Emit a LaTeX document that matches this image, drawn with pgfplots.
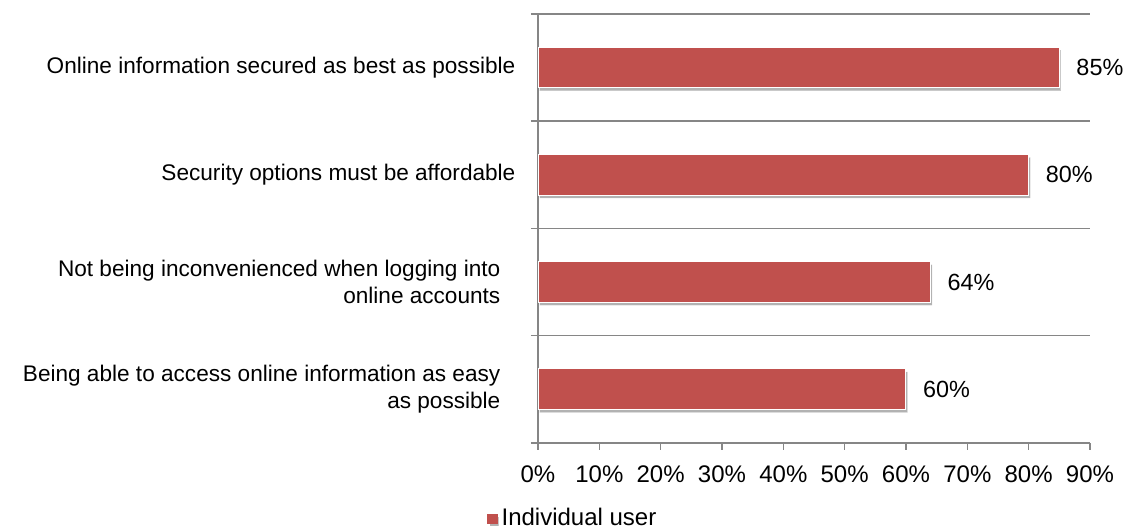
\documentclass[border=0pt]{standalone}
\usepackage{pgfplots}
\pgfplotsset{compat=1.18}
\usepackage{fontspec}
\setmainfont{Liberation Sans}
\usetikzlibrary{shadows,calc}
\definecolor{barred}{HTML}{C0504D}
\definecolor{axgray}{HTML}{868686}
\begin{document}
\begin{tikzpicture}
\begin{axis}[
  scale only axis,
  width=276pt, height=214.5pt,
  xbar,
  xmin=0, xmax=90,
  ymin=-0.5, ymax=3.5,
  axis lines=left,
  axis line style={-, draw=axgray, line width=0.75pt},
  xtick={0,10,...,90},
  xticklabel={\pgfmathprintnumber{\tick}\%},
  xticklabel style={yshift=-4.5pt, font=\fontsize{12}{14}\selectfont},
  ytick={-0.5,0.5,1.5,2.5,3.5},
  yticklabels={},
  ymajorgrids=true,
  major grid style={draw=axgray, line width=0.75pt},
  extra y ticks={0,1,2,3},
  extra y tick labels={{Being able to access online information as easy\hspace*{7.5pt}\\as possible\hspace*{7.5pt}},
               {Not being inconvenienced when logging into\hspace*{7.5pt}\\online accounts\hspace*{7.5pt}},
               {Security options must be affordable},
               {Online information secured as best as possible}},
  extra y tick style={major tick length=0pt, grid=none, yticklabel style={align=right, xshift=-7.8pt}},
  tick align=outside,
  major tick length=3.5pt,
  tick style={draw=axgray, line width=0.75pt},
  font=\fontsize{11.3}{13.5}\selectfont,
  /pgf/number format/assume math mode=true,
  bar width=0.38,
  nodes near coords={\pgfmathprintnumber{\pgfplotspointmeta}\%},
  nodes near coords align={horizontal},
  every node near coord/.append style={xshift=5pt, font=\fontsize{11.7}{14}\selectfont, fill=none},
  legend style={draw=none, at={(rel axis cs:0.065,-0.176)}, anchor=center, font=\fontsize{12}{14}\selectfont},
  legend image code/.code={\fill[barred] (0pt,-2.4pt) rectangle (4.6pt,2.2pt);},
]
\addplot[fill=barred, draw=white, line width=0.5pt,
  drop shadow={shadow xshift=0.8pt, shadow yshift=-1.5pt, opacity=0.3, fill=black}]
  coordinates {(60,0) (64,1) (80,2) (85,3)};
\addlegendentry{Individual user}
\end{axis}
\pgfresetboundingbox
\path ($(current axis.south west)+(-269pt,-44pt)$) rectangle ($(current axis.north east)+(17.5pt,7pt)$);
\end{tikzpicture}
\end{document}
